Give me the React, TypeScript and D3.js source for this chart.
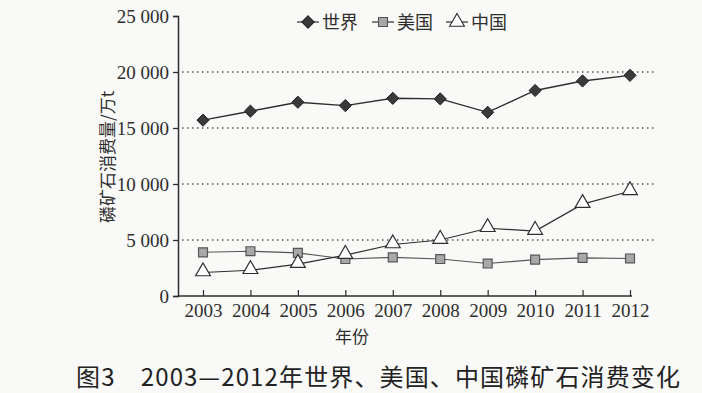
import React, { useEffect, useRef } from 'react';
import * as d3 from 'd3';

const years = ['2003', '2004', '2005', '2006', '2007', '2008', '2009', '2010', '2011', '2012'];
const world = [15700, 16500, 17300, 17000, 17650, 17600, 16400, 18350, 19200, 19700];
const usa = [3900, 4000, 3850, 3300, 3450, 3300, 2900, 3250, 3400, 3350];
const china = [2100, 2300, 2850, 3650, 4600, 5000, 6050, 5800, 8200, 9350];
const yTicks = [0, 5000, 10000, 15000, 20000, 25000];
const seriesNames = ['世界', '美国', '中国'];

const App = () => {
  const ref = useRef<SVGSVGElement>(null);

  useEffect(() => {
    const svg = d3.select(ref.current);
    svg.selectAll('*').remove();

    const width = 702;
    const height = 393;
    const left = 178, right = 632, top = 16, bottom = 296;
    const ink = '#2e2e2e';
    const serif = '"Liberation Serif", "Times New Roman", serif';
    const cjk = '"Noto Sans CJK SC", sans-serif';

    svg.append('rect').attr('width', width).attr('height', height).attr('fill', '#f9f9f7');

    const x = d3.scalePoint().domain(years).range([203, 630]);
    const y = d3.scaleLinear().domain([0, 25000]).range([bottom, top]);

    // dotted grid lines
    svg.append('g')
      .selectAll('line')
      .data(yTicks.filter(d => d > 0 && d < 25000))
      .enter()
      .append('line')
      .attr('x1', left + 4)
      .attr('x2', 655)
      .attr('y1', d => y(d))
      .attr('y2', d => y(d))
      .attr('stroke', '#555')
      .attr('stroke-width', 1.3)
      .attr('stroke-dasharray', '1.5,3.5');

    // y axis
    const yAxis = svg.append('g')
      .attr('transform', `translate(${left},0)`)
      .call(d3.axisLeft(y).tickValues(yTicks).tickSize(5).tickPadding(4)
        .tickFormat(d => d3.format(',')(d as number).replace(',', ' ')));
    yAxis.select('.domain').attr('stroke', ink).attr('stroke-width', 1.5);
    yAxis.selectAll('.tick line').attr('stroke', ink).attr('stroke-width', 1.3);
    yAxis.selectAll('.tick text')
      .attr('fill', ink)
      .style('font-family', serif)
      .style('font-size', '19px');

    // x axis, ticks pointing up
    const xAxis = svg.append('g')
      .attr('transform', `translate(0,${bottom})`)
      .call(d3.axisBottom(x).tickSize(-6).tickSizeOuter(0).tickPadding(8));
    xAxis.select('.domain').attr('d', `M${left},0H${right}`).attr('stroke', ink).attr('stroke-width', 1.5);
    xAxis.selectAll('.tick line').attr('stroke', ink).attr('stroke-width', 1.2);
    xAxis.selectAll('.tick text')
      .attr('fill', ink)
      .style('font-family', serif)
      .style('font-size', '19px');

    const line = d3.line<number>()
      .x((_, i) => x(years[i]) as number)
      .y(d => y(d));

    // world
    svg.append('path').datum(world).attr('d', line).attr('fill', 'none').attr('stroke', ink).attr('stroke-width', 1.4);
    // usa
    svg.append('path').datum(usa).attr('d', line).attr('fill', 'none').attr('stroke', '#555').attr('stroke-width', 1.1);
    // china
    svg.append('path').datum(china).attr('d', line).attr('fill', 'none').attr('stroke', ink).attr('stroke-width', 1.2);

    const diamond = d3.symbol().type(d3.symbolDiamond2).size(95);
    const square = d3.symbol().type(d3.symbolSquare).size(80);
    const triangle = d3.symbol().type(d3.symbolTriangle).size(95);

    const drawMarkers = (data: number[], sym: any, fill: string, stroke: string, sw: number, dy = 0) => {
      svg.append('g')
        .selectAll('path')
        .data(data)
        .enter()
        .append('path')
        .attr('d', sym)
        .attr('transform', (d, i) => `translate(${x(years[i])},${y(d) + dy})`)
        .attr('fill', fill)
        .attr('stroke', stroke)
        .attr('stroke-width', sw);
    };
    drawMarkers(world, diamond, '#3a3a3a', '#222', 1);
    drawMarkers(usa, square, '#a8a8a8', '#555', 1.2);
    drawMarkers(china, triangle, '#fff', ink, 1.2, -1);

    // legend
    const legend = svg.append('g').attr('transform', 'translate(0,22)');
    const items = [
      { x: 297, sym: diamond, fill: '#3a3a3a', stroke: '#222' },
      { x: 372, sym: square, fill: '#a8a8a8', stroke: '#555' },
      { x: 446, sym: triangle, fill: '#fff', stroke: ink },
    ];
    items.forEach((it, i) => {
      legend.append('line').attr('x1', it.x).attr('x2', it.x + 22).attr('y1', 0).attr('y2', 0)
        .attr('stroke', ink).attr('stroke-width', 1.2);
      legend.append('path').attr('d', it.sym).attr('transform', `translate(${it.x + 11},0)`)
        .attr('fill', it.fill).attr('stroke', it.stroke).attr('stroke-width', 1.1);
      legend.append('text').attr('x', it.x + 25).attr('y', 7)
        .text(seriesNames[i])
        .attr('fill', ink)
        .style('font-family', cjk)
        .style('font-size', '18px');
    });

    // y label
    svg.append('text')
      .attr('transform', 'translate(114,157) rotate(-90)')
      .attr('text-anchor', 'middle')
      .attr('fill', ink)
      .style('font-family', cjk)
      .style('font-size', '17px')
      .text('磷矿石消费量/万t');

    // x label
    svg.append('text')
      .attr('x', 352).attr('y', 343)
      .attr('text-anchor', 'middle')
      .attr('fill', ink)
      .style('font-family', cjk)
      .style('font-size', '17px')
      .text('年份');

    // caption
    svg.append('text')
      .attr('x', 76).attr('y', 386)
      .attr('textLength', 604)
      .attr('lengthAdjust', 'spacing')
      .attr('fill', '#222')
      .style('font-family', cjk)
      .style('font-size', '24px')
      .text('图3　2003—2012年世界、美国、中国磷矿石消费变化');
  }, []);

  return <svg ref={ref} width={702} height={393} style={{ position: 'absolute', left: 0, top: 0 }} />;
};

export default App;
